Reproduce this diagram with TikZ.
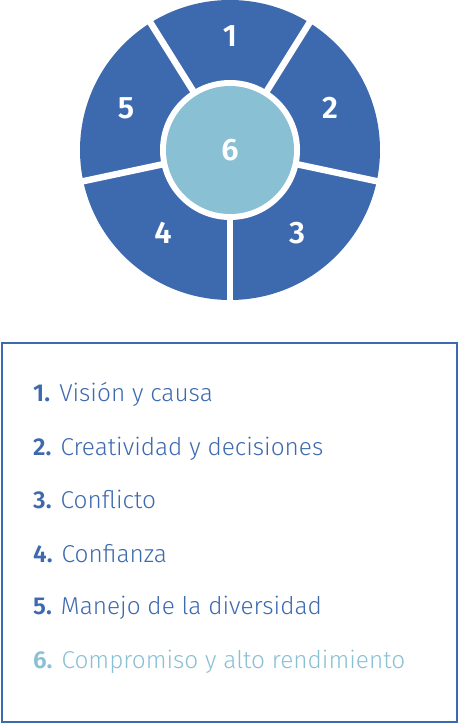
\documentclass[tikz,border=0pt]{standalone}
\usepackage{fontspec}
\setmainfont{Fira Sans}[UprightFont={* Light}]
\usetikzlibrary{positioning}
\definecolor{azul}{HTML}{3D69AE}
\definecolor{celeste}{HTML}{89C0D4}

\begin{document}
\begin{tikzpicture}[
                        x = 1pt, y = 1pt,
                        num/.style  = {text=white, font=\fontsize{31}{31}\selectfont\bfseries},
                        item/.style = {anchor=base west, inner sep=0pt, text=azul,
                                      font=\fontsize{24.4}{24.4}\selectfont},
                        gap/.style  = {white, line width=6.5pt}
                  ]
                  \useasboundingbox (0,0) rectangle (459,724);
                  \coordinate (centro) at (230,574);

                  % rueda
                  \fill[azul] (centro) circle (150);
                  \foreach \a in {-90,-12,58,122,192}
                        \draw[gap] (centro) -- ++(\a:152);
                  \fill[white] (centro) circle (70);
                  \fill[celeste] (centro) circle (64);

                  \node[num] (n1) at (230,688) {1};
                  \node[num] (n2) at (330,616) {2};
                  \node[num] (n3) at (297,491) {3};
                  \node[num] (n4) at (163,491) {4};
                  \node[num] (n5) at (126,616) {5};
                  \node[num] (n6) at (centro)  {6};

                  % lista
                  \draw[azul, line width=2pt] (2,2) rectangle (457,381);
                  \node[item] (l1) at (33,322) {\textbf{1.} Visión y causa};
                  \node[item] (l2) at (33,268) {\textbf{2.} Creatividad y decisiones};
                  \node[item] (l3) at (33,215) {\textbf{3.} Conflicto};
                  \node[item] (l4) at (33,161) {\textbf{4.} Confianza};
                  \node[item] (l5) at (33,109) {\textbf{5.} Manejo de la diversidad};
                  \node[item, text=celeste] (l6) at (33,55) {\textbf{6.} Compromiso y alto rendimiento};
            \end{tikzpicture}
\end{document}
